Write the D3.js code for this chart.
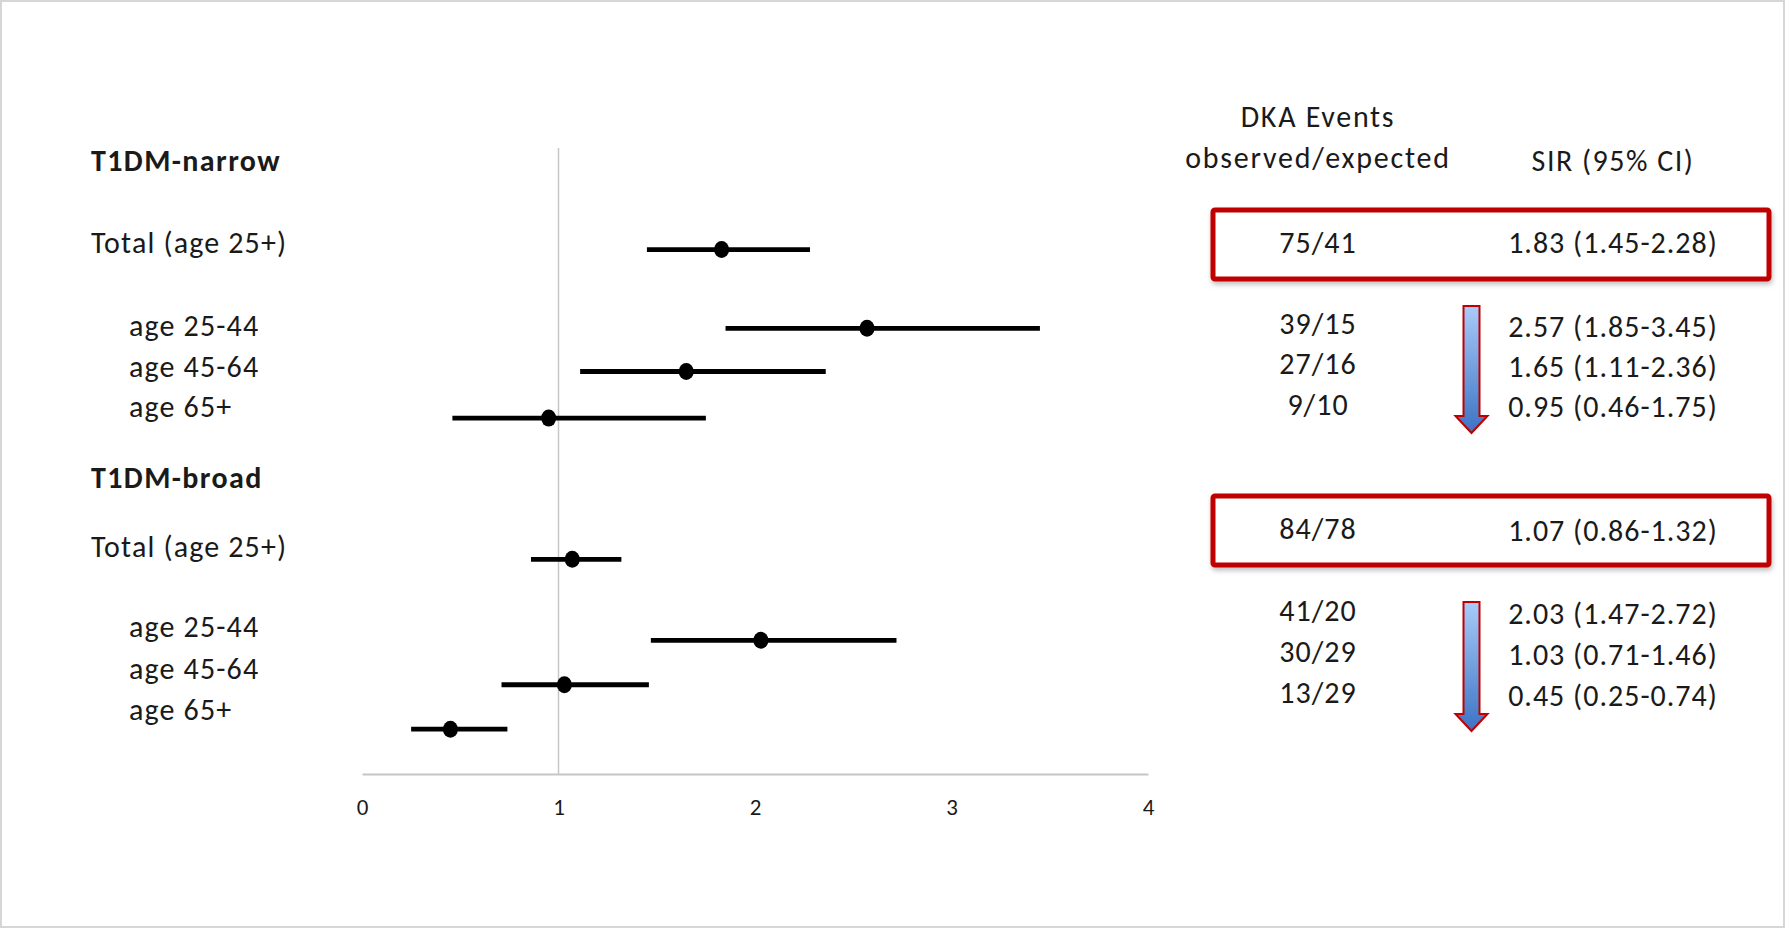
<!DOCTYPE html>
<html>
<head>
<meta charset="utf-8">
<script src="https://cdn.jsdelivr.net/npm/d3@7"></script>
<style>
  body { margin: 0; background: #fff; }
  svg text { font-family: Carlito, Calibri, Lato, sans-serif; fill: #1a1a1a; }
</style>
</head>
<body>
<div id="chart"></div>
<script>
// data
const groups = ['T1DM-narrow', 'T1DM-broad'];
const rowLabels = ['Total (age 25+)', 'age 25-44', 'age 45-64', 'age 65+',
                   'Total (age 25+)', 'age 25-44', 'age 45-64', 'age 65+'];
const sir = [1.83, 2.57, 1.65, 0.95, 1.07, 2.03, 1.03, 0.45];
const ciLow = [1.45, 1.85, 1.11, 0.46, 0.86, 1.47, 0.71, 0.25];
const ciHigh = [2.28, 3.45, 2.36, 1.75, 1.32, 2.72, 1.46, 0.74];
const events = ['75/41', '39/15', '27/16', '9/10', '84/78', '41/20', '30/29', '13/29'];
const xTicks = [0, 1, 2, 3, 4];

// layout (row slots, px centres)
const dotSlot = [0, 1.79, 2.77, 3.83, 7.04, 8.88, 9.89, 10.9];
const labelY = [242, 325, 366, 406, 546, 626, 668, 709];
const groupY = [160, 477];
const eventY = [242, 323, 363, 404, 528, 610, 651, 692];
const sirY = [242, 326, 366, 406, 530, 613, 654, 695];

const W = 1787, H = 930;
const svg = d3.select('#chart').append('svg')
  .attr('width', W).attr('height', H);

const defs = svg.append('defs');
const grad = defs.append('linearGradient').attr('id', 'arrowGrad')
  .attr('x1', 0).attr('y1', 0).attr('x2', 0).attr('y2', 1);
grad.append('stop').attr('offset', '0%').attr('stop-color', '#a9cbf8');
grad.append('stop').attr('offset', '100%').attr('stop-color', '#3b73c4');
const shadow = defs.append('filter').attr('id', 'shadow')
  .attr('x', '-5%').attr('y', '-20%').attr('width', '110%').attr('height', '150%');
shadow.append('feDropShadow').attr('dx', 1).attr('dy', 3).attr('stdDeviation', 2.5)
  .attr('flood-color', '#000').attr('flood-opacity', 0.25);

// frame
svg.append('rect').attr('x', 1).attr('y', 1).attr('width', W - 4).attr('height', H - 4)
  .attr('fill', 'none').attr('stroke', '#d6d6d6').attr('stroke-width', 2);

const x = d3.scaleLinear().domain([0, 4]).range([362, 1148]);
const y = d3.scaleLinear().domain([0, 1]).range([249.6, 249.6 + 44]);
const axisY = 774;

// reference line at 1
svg.append('line')
  .attr('x1', x(1)).attr('x2', x(1)).attr('y1', 148).attr('y2', axisY)
  .attr('stroke', '#c6c6c6').attr('stroke-width', 1.5);

// x axis
const axis = svg.append('g').attr('transform', `translate(0,${axisY})`)
  .call(d3.axisBottom(x).tickValues(xTicks).tickFormat(d3.format('d')).tickSize(0).tickPadding(25));
axis.select('.domain').attr('stroke', '#c6c6c6').attr('stroke-width', 2);
axis.selectAll('text').style('font-size', '23px').attr('fill', '#1a1a1a');

// CI lines and dots
const rows = svg.append('g').selectAll('g').data(sir).enter().append('g');
rows.append('line')
  .attr('x1', (d, i) => x(ciLow[i])).attr('x2', (d, i) => x(ciHigh[i]))
  .attr('y1', (d, i) => y(dotSlot[i])).attr('y2', (d, i) => y(dotSlot[i]))
  .attr('stroke', '#000').attr('stroke-width', 4.8);
rows.append('ellipse')
  .attr('cx', d => x(d)).attr('cy', (d, i) => y(dotSlot[i]))
  .attr('rx', 7.5).attr('ry', 8.5).attr('fill', '#000');

// left labels
svg.selectAll('.grp').data(groups).enter().append('text')
  .attr('x', 91).attr('y', (d, i) => groupY[i]).attr('dy', '0.35em')
  .style('font-size', '30px').style('letter-spacing', '1.4px').style('font-weight', 'bold').text(d => d);
svg.selectAll('.lbl').data(rowLabels).enter().append('text')
  .attr('x', (d, i) => i % 4 === 0 ? 91 : 129).attr('y', (d, i) => labelY[i]).attr('dy', '0.35em')
  .style('font-size', '30px').style('letter-spacing', '1.15px').text(d => d);

// red boxes
[0, 4].forEach(i => {
  svg.append('rect')
    .attr('x', 1213).attr('y', eventY[i] - 32).attr('width', 556).attr('height', 69)
    .attr('rx', 2).attr('fill', '#fff').attr('stroke', '#c00000').attr('stroke-width', 5)
    .attr('filter', 'url(#shadow)');
});

// arrows
function arrow(top, headTop, tip) {
  const cx = 1471.5;
  return `M${cx - 8},${top} L${cx + 8},${top} L${cx + 8},${headTop} L${cx + 16},${headTop}
          L${cx},${tip} L${cx - 16},${headTop} L${cx - 8},${headTop} Z`;
}
svg.append('path').attr('d', arrow(306, 416, 433))
  .attr('fill', 'url(#arrowGrad)').attr('stroke', '#c00000').attr('stroke-width', 2);
svg.append('path').attr('d', arrow(602, 714, 731))
  .attr('fill', 'url(#arrowGrad)').attr('stroke', '#c00000').attr('stroke-width', 2);

// table headers
const head = svg.append('g').style('font-size', '30px');
head.append('text').attr('x', 1318).attr('y', 116).attr('dy', '0.35em')
  .attr('text-anchor', 'middle').style('letter-spacing', '1.7px').text('DKA Events');
head.append('text').attr('x', 1318).attr('y', 157).attr('dy', '0.35em')
  .attr('text-anchor', 'middle').style('letter-spacing', '1.8px').text('observed/expected');
head.append('text').attr('x', 1613).attr('y', 160).attr('dy', '0.35em')
  .attr('text-anchor', 'middle').style('letter-spacing', '1.5px').text('SIR (95% CI)');

// table values
svg.selectAll('.ev').data(events).enter().append('text')
  .attr('x', 1318).attr('y', (d, i) => eventY[i]).attr('dy', '0.35em')
  .attr('text-anchor', 'middle').style('font-size', '30px').style('letter-spacing', '1px').text(d => d);
svg.selectAll('.sir').data(sir).enter().append('text')
  .attr('x', 1613).attr('y', (d, i) => sirY[i]).attr('dy', '0.35em')
  .attr('text-anchor', 'middle').style('font-size', '30px').style('letter-spacing', '1px')
  .text((d, i) => `${d.toFixed(2)} (${ciLow[i].toFixed(2)}-${ciHigh[i].toFixed(2)})`);
</script>
</body>
</html>
